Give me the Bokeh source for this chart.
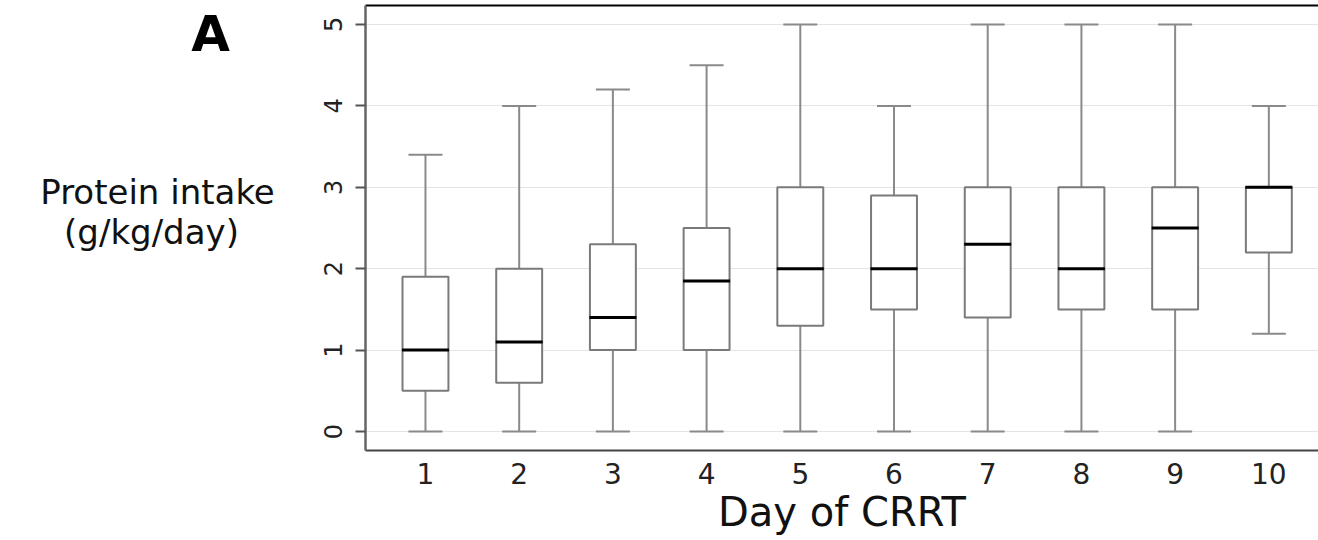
from bokeh.plotting import figure
from bokeh.models import Range1d, FixedTicker, LinearAxis
from bokeh.layouts import row
from bokeh.core.properties import value
from bokeh.embed import file_html
from bokeh.resources import INLINE

days = [1, 2, 3, 4, 5, 6, 7, 8, 9, 10]
whisk_low = [0, 0, 0, 0, 0, 0, 0, 0, 0, 1.2]
q1 = [0.5, 0.6, 1.0, 1.0, 1.3, 1.5, 1.4, 1.5, 1.5, 2.2]
median = [1.0, 1.1, 1.4, 1.85, 2.0, 2.0, 2.3, 2.0, 2.5, 3.0]
q3 = [1.9, 2.0, 2.3, 2.5, 3.0, 2.9, 3.0, 3.0, 3.0, 3.0]
whisk_high = [3.4, 4.0, 4.2, 4.5, 5.0, 4.0, 5.0, 5.0, 5.0, 4.0]
y_ticks = [0, 1, 2, 3, 4, 5]
panel_letter = "A"
y_title = ["Protein intake", "(g/kg/day)"]
x_title = "Day of CRRT"

FONT = "DejaVu Sans"
LEFT_W = 310

# ---- left text panel ----
lp = figure(width=LEFT_W, height=540, output_backend="svg", toolbar_location=None,
            x_axis_location=None, y_axis_location=None,
            x_range=Range1d(0, LEFT_W), y_range=Range1d(447, 25),
            min_border=0, min_border_left=0, min_border_right=0,
            min_border_top=0, min_border_bottom=0)
lp.grid.visible = False
lp.outline_line_color = None
lp.text(x=[210], y=[52], text=[panel_letter], text_font=value(FONT), text_font_style="bold",
        text_font_size="50px", text_align="center", text_baseline="alphabetic", text_color="black")
lp.text(x=[157, 151], y=[202, 240], text=y_title, text_font=value(FONT),
        text_font_size="34px", text_align="center", text_baseline="alphabetic", text_color="#111111")

# ---- main plot ----
p = figure(width=1318 - LEFT_W, height=540, output_backend="svg", toolbar_location=None,
           x_range=Range1d(0.36, 10.53), y_range=Range1d(-0.233, 5.233),
           min_border_left=365 - LEFT_W, min_border_right=0, min_border_top=5,
           min_border_bottom=90)
p.outline_line_color = None

p.xgrid.grid_line_color = None
p.ygrid.ticker = FixedTicker(ticks=y_ticks)
p.ygrid.grid_line_color = "#e4e4e4"
p.ygrid.grid_line_width = 1

# whiskers
p.segment(x0=days, y0=whisk_low, x1=days, y1=whisk_high, line_color="#8a8a8a", line_width=2)
p.scatter(x=days, y=whisk_low, marker="dash", size=34, line_color="#8a8a8a", line_width=2)
p.scatter(x=days, y=whisk_high, marker="dash", size=34, line_color="#8a8a8a", line_width=2)

# boxes
p.vbar(x=days, width=0.49, bottom=q1, top=q3, fill_color="white",
       line_color="#7a7a7a", line_width=2)
# medians
p.scatter(x=days, y=median, marker="dash", size=47, line_color="black", line_width=3)

# axes
p.xaxis.ticker = FixedTicker(ticks=days)
p.xaxis.major_tick_line_color = None
p.xaxis.minor_tick_line_color = None
p.xaxis.axis_line_color = "#444444"
p.xaxis.axis_line_width = 2
p.xaxis.major_label_text_font = FONT
p.xaxis.major_label_text_font_size = "28px"
p.xaxis.major_label_text_color = "#222222"
p.xaxis.major_label_standoff = 6
p.xaxis.axis_label = x_title
p.xaxis.axis_label_text_font = FONT
p.xaxis.axis_label_text_font_style = "normal"
p.xaxis.axis_label_text_font_size = "40px"
p.xaxis.axis_label_text_color = "#111111"
p.xaxis.axis_label_standoff = 2

p.yaxis.ticker = FixedTicker(ticks=y_ticks)
p.yaxis.major_label_orientation = "vertical"
p.yaxis.major_tick_out = 10
p.yaxis.major_tick_in = 0
p.yaxis.major_tick_line_color = "#555555"
p.yaxis.major_tick_line_width = 2
p.yaxis.minor_tick_line_color = None
p.yaxis.axis_line_color = "#666666"
p.yaxis.axis_line_width = 2.5
p.yaxis.major_label_text_font = FONT
p.yaxis.major_label_text_font_size = "24px"
p.yaxis.major_label_text_color = "#222222"
p.yaxis.major_label_standoff = 13

top_axis = LinearAxis(ticker=FixedTicker(ticks=[]), major_label_text_font_size="0px",
                      major_tick_line_color=None, minor_tick_line_color=None,
                      axis_line_color="black", axis_line_width=2)
p.add_layout(top_axis, "above")

layout = row(lp, p)
open("out.html", "w").write(file_html(layout, INLINE))
